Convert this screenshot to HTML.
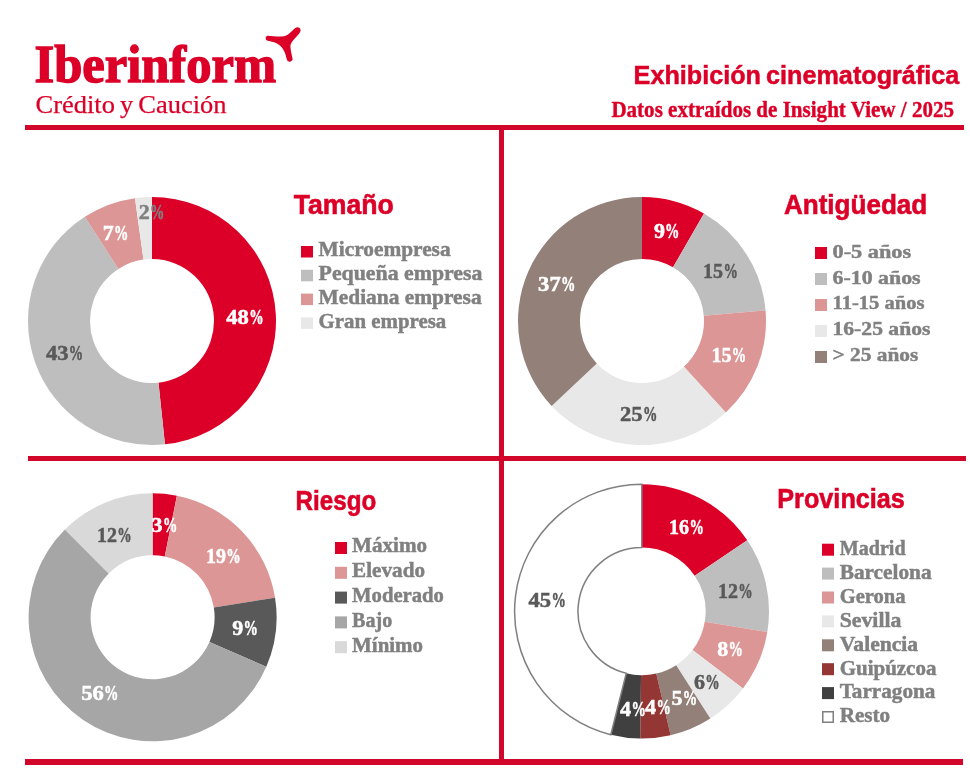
<!DOCTYPE html>
<html><head><meta charset="utf-8"><title>Exhibición cinematográfica</title>
<style>
html,body{margin:0;padding:0;background:#fff}
svg{display:block;will-change:transform}
.sb{font-family:"Liberation Serif",serif;font-weight:bold}
.sr{font-family:"Liberation Serif",serif;font-weight:normal}
.nb{font-family:"Liberation Sans",sans-serif;font-weight:bold}
</style></head><body>
<svg width="970" height="773" viewBox="0 0 970 773">
<rect width="970" height="773" fill="#fff"/>
<rect x="25" y="125" width="939" height="5" fill="#D2052A"/>
<rect x="28" y="456" width="938" height="5" fill="#D2052A"/>
<rect x="25" y="759" width="938" height="6" fill="#D2052A"/>
<rect x="499" y="127" width="5" height="637" fill="#D2052A"/>
<text x="34.5" y="81.5" font-size="53" fill="#DC0028" stroke="#DC0028" stroke-width="1.4" class="sb" textLength="241.5" lengthAdjust="spacingAndGlyphs">Iberinform</text>
<text x="35.5" y="113.4" font-size="26" fill="#DC0028" stroke="#DC0028" stroke-width="0.25" class="sr" textLength="191.1" lengthAdjust="spacingAndGlyphs" word-spacing="-1.5">Crédito y Caución</text>
<path d="M268,35.8 C273,36.3 279,37 284,36.3 C288.5,35.5 292,30.5 295.3,28 C297.5,26.3 300.5,27.5 300.6,30.3 C300.7,33 295.5,37.5 292.5,41.3 C290.6,44 290.3,45.5 290.5,47.5 C290.8,51.5 292,55.5 292.6,58.8 C293,61.5 288.3,63 287.2,60.3 C286.3,58 285.8,55 284.7,52.3 C283.6,49.6 282,47.2 279.6,45.2 C277.6,43.6 275.6,42.8 273.1,42 C271,41.4 269.5,41.1 267.6,40.7 C264.8,40.1 265.2,35.6 268,35.8 Z" fill="#DC0028"/>
<text x="633.6" y="84.3" font-size="25.8" fill="#DC0028" stroke="#DC0028" stroke-width="0.5" class="nb" textLength="325.7" lengthAdjust="spacingAndGlyphs" word-spacing="-2">Exhibición cinematográfica</text>
<text x="611.4" y="117.1" font-size="22.5" fill="#DC0028" stroke="#DC0028" stroke-width="0.4" class="sb" textLength="342.6" lengthAdjust="spacingAndGlyphs">Datos extraídos de Insight View / 2025</text>
<path d="M152.00,197.00A124,124 0 0 1 164.96,444.32L158.48,382.66A62,62 0 0 0 152.00,259.00Z" fill="#DC0028"/>
<path d="M164.96,444.32A124,124 0 0 1 84.83,216.77L118.41,268.88A62,62 0 0 0 158.48,382.66Z" fill="#BEBEBE"/>
<path d="M84.83,216.77A124,124 0 0 1 134.96,198.18L143.48,259.59A62,62 0 0 0 118.41,268.88Z" fill="#DC9696"/>
<path d="M134.96,198.18A124,124 0 0 1 152.00,197.00L152.00,259.00A62,62 0 0 0 143.48,259.59Z" fill="#E8E8E8"/>
<text x="226.2" y="323.6" font-size="20.8" fill="#fff" stroke="#fff" stroke-width="0.5" class="sb" textLength="22.6" lengthAdjust="spacingAndGlyphs">48</text>
<text x="249.2" y="323.6" font-size="20.8" fill="#fff" stroke="#fff" stroke-width="0.5" class="sb" textLength="14.4" lengthAdjust="spacingAndGlyphs">%</text>
<text x="45.9" y="359.6" font-size="20.8" fill="#595959" stroke="#595959" stroke-width="0.5" class="sb" textLength="22.6" lengthAdjust="spacingAndGlyphs">43</text>
<text x="68.8" y="359.6" font-size="20.8" fill="#595959" stroke="#595959" stroke-width="0.5" class="sb" textLength="14.4" lengthAdjust="spacingAndGlyphs">%</text>
<text x="102.7" y="240.2" font-size="20.8" fill="#fff" stroke="#fff" stroke-width="0.5" class="sb" textLength="11.0" lengthAdjust="spacingAndGlyphs">7</text>
<text x="114.0" y="240.2" font-size="20.8" fill="#fff" stroke="#fff" stroke-width="0.5" class="sb" textLength="14.4" lengthAdjust="spacingAndGlyphs">%</text>
<text x="138.7" y="219.2" font-size="20.8" fill="#808080" stroke="#808080" stroke-width="0.5" class="sb" textLength="11.0" lengthAdjust="spacingAndGlyphs">2</text>
<text x="150.0" y="219.2" font-size="20.8" fill="#808080" stroke="#808080" stroke-width="0.5" class="sb" textLength="14.4" lengthAdjust="spacingAndGlyphs">%</text>
<text x="293.7" y="214.0" font-size="28" fill="#DC0028" stroke="#DC0028" stroke-width="0.6" class="nb" textLength="100.2" lengthAdjust="spacingAndGlyphs">Tamaño</text>
<rect x="301" y="246.0" width="12" height="11.5" fill="#DC0028"/>
<text x="318.6" y="256.4" font-size="20" fill="#808080" stroke="#808080" stroke-width="0.45" class="sb" textLength="132.0" lengthAdjust="spacingAndGlyphs">Microempresa</text>
<rect x="301" y="269.8" width="12" height="11.5" fill="#BEBEBE"/>
<text x="318.6" y="280.2" font-size="20" fill="#808080" stroke="#808080" stroke-width="0.45" class="sb" textLength="163.8" lengthAdjust="spacingAndGlyphs">Pequeña empresa</text>
<rect x="301" y="293.6" width="12" height="11.5" fill="#DC9696"/>
<text x="318.6" y="304.1" font-size="20" fill="#808080" stroke="#808080" stroke-width="0.45" class="sb" textLength="163.0" lengthAdjust="spacingAndGlyphs">Mediana empresa</text>
<rect x="301" y="317.4" width="12" height="11.5" fill="#E8E8E8"/>
<text x="318.6" y="327.9" font-size="20" fill="#808080" stroke="#808080" stroke-width="0.45" class="sb" textLength="127.7" lengthAdjust="spacingAndGlyphs">Gran empresa</text>
<path d="M642.00,197.00A124,124 0 0 1 704.00,213.61L673.00,267.31A62,62 0 0 0 642.00,259.00Z" fill="#DC0028"/>
<path d="M704.00,213.61A124,124 0 0 1 765.55,310.41L703.77,315.70A62,62 0 0 0 673.00,267.31Z" fill="#BEBEBE"/>
<path d="M765.55,310.41A124,124 0 0 1 725.77,412.42L683.89,366.71A62,62 0 0 0 703.77,315.70Z" fill="#DC9696"/>
<path d="M725.77,412.42A124,124 0 0 1 551.61,405.88L596.80,363.44A62,62 0 0 0 683.89,366.71Z" fill="#E8E8E8"/>
<path d="M551.61,405.88A124,124 0 0 1 642.00,197.00L642.00,259.00A62,62 0 0 0 596.80,363.44Z" fill="#928079"/>
<text x="653.9" y="237.6" font-size="20.8" fill="#fff" stroke="#fff" stroke-width="0.5" class="sb" textLength="11.0" lengthAdjust="spacingAndGlyphs">9</text>
<text x="665.1" y="237.6" font-size="20.8" fill="#fff" stroke="#fff" stroke-width="0.5" class="sb" textLength="14.4" lengthAdjust="spacingAndGlyphs">%</text>
<text x="703.1" y="277.9" font-size="20.8" fill="#595959" stroke="#595959" stroke-width="0.5" class="sb" textLength="20.0" lengthAdjust="spacingAndGlyphs">15</text>
<text x="723.4" y="277.9" font-size="20.8" fill="#595959" stroke="#595959" stroke-width="0.5" class="sb" textLength="14.4" lengthAdjust="spacingAndGlyphs">%</text>
<text x="711.5" y="361.9" font-size="20.8" fill="#fff" stroke="#fff" stroke-width="0.5" class="sb" textLength="20.0" lengthAdjust="spacingAndGlyphs">15</text>
<text x="731.8" y="361.9" font-size="20.8" fill="#fff" stroke="#fff" stroke-width="0.5" class="sb" textLength="14.4" lengthAdjust="spacingAndGlyphs">%</text>
<text x="620.0" y="420.9" font-size="20.8" fill="#595959" stroke="#595959" stroke-width="0.5" class="sb" textLength="22.6" lengthAdjust="spacingAndGlyphs">25</text>
<text x="642.9" y="420.9" font-size="20.8" fill="#595959" stroke="#595959" stroke-width="0.5" class="sb" textLength="14.4" lengthAdjust="spacingAndGlyphs">%</text>
<text x="538.1" y="290.9" font-size="20.8" fill="#fff" stroke="#fff" stroke-width="0.5" class="sb" textLength="22.6" lengthAdjust="spacingAndGlyphs">37</text>
<text x="561.0" y="290.9" font-size="20.8" fill="#fff" stroke="#fff" stroke-width="0.5" class="sb" textLength="14.4" lengthAdjust="spacingAndGlyphs">%</text>
<text x="783.9" y="214.0" font-size="28" fill="#DC0028" stroke="#DC0028" stroke-width="0.6" class="nb" textLength="143.4" lengthAdjust="spacingAndGlyphs">Antigüedad</text>
<rect x="815" y="247" width="12" height="12" fill="#DC0028"/>
<text x="832.5" y="257.7" font-size="19.3" fill="#808080" stroke="#808080" stroke-width="0.45" class="sb" textLength="78.7" lengthAdjust="spacingAndGlyphs">0-5 años</text>
<rect x="815" y="273" width="12" height="12" fill="#BEBEBE"/>
<text x="832.5" y="283.6" font-size="19.3" fill="#808080" stroke="#808080" stroke-width="0.45" class="sb" textLength="88.1" lengthAdjust="spacingAndGlyphs">6-10 años</text>
<rect x="815" y="299" width="12" height="12" fill="#DC9696"/>
<text x="832.5" y="309.4" font-size="19.3" fill="#808080" stroke="#808080" stroke-width="0.45" class="sb" textLength="91.9" lengthAdjust="spacingAndGlyphs">11-15 años</text>
<rect x="815" y="325" width="12" height="12" fill="#E8E8E8"/>
<text x="832.5" y="335.2" font-size="19.3" fill="#808080" stroke="#808080" stroke-width="0.45" class="sb" textLength="97.9" lengthAdjust="spacingAndGlyphs">16-25 años</text>
<rect x="815" y="351" width="12" height="12" fill="#928079"/>
<text x="832.5" y="361.1" font-size="19.3" fill="#808080" stroke="#808080" stroke-width="0.45" class="sb" textLength="85.8" lengthAdjust="spacingAndGlyphs">&gt; 25 años</text>
<path d="M152.60,493.30A124,124 0 0 1 176.90,495.70L164.75,556.50A62,62 0 0 0 152.60,555.30Z" fill="#DC0028"/>
<path d="M176.90,495.70A124,124 0 0 1 275.04,597.69L213.82,607.49A62,62 0 0 0 164.75,556.50Z" fill="#DC9696"/>
<path d="M275.04,597.69A124,124 0 0 1 266.32,666.74L209.46,642.02A62,62 0 0 0 213.82,607.49Z" fill="#595959"/>
<path d="M266.32,666.74A124,124 0 1 1 64.92,529.62L108.76,573.46A62,62 0 1 0 209.46,642.02Z" fill="#A6A6A6"/>
<path d="M64.92,529.62A124,124 0 0 1 152.60,493.30L152.60,555.30A62,62 0 0 0 108.76,573.46Z" fill="#D9D9D9"/>
<text x="151.6" y="532.3" font-size="20.8" fill="#fff" stroke="#fff" stroke-width="0.5" class="sb" textLength="11.0" lengthAdjust="spacingAndGlyphs">3</text>
<text x="162.9" y="532.3" font-size="20.8" fill="#fff" stroke="#fff" stroke-width="0.5" class="sb" textLength="14.4" lengthAdjust="spacingAndGlyphs">%</text>
<text x="206.0" y="562.7" font-size="20.8" fill="#fff" stroke="#fff" stroke-width="0.5" class="sb" textLength="20.0" lengthAdjust="spacingAndGlyphs">19</text>
<text x="226.3" y="562.7" font-size="20.8" fill="#fff" stroke="#fff" stroke-width="0.5" class="sb" textLength="14.4" lengthAdjust="spacingAndGlyphs">%</text>
<text x="232.2" y="635.2" font-size="20.8" fill="#fff" stroke="#fff" stroke-width="0.5" class="sb" textLength="11.0" lengthAdjust="spacingAndGlyphs">9</text>
<text x="243.6" y="635.2" font-size="20.8" fill="#fff" stroke="#fff" stroke-width="0.5" class="sb" textLength="14.4" lengthAdjust="spacingAndGlyphs">%</text>
<text x="81.2" y="700.0" font-size="20.8" fill="#fff" stroke="#fff" stroke-width="0.5" class="sb" textLength="22.6" lengthAdjust="spacingAndGlyphs">56</text>
<text x="104.0" y="700.0" font-size="20.8" fill="#fff" stroke="#fff" stroke-width="0.5" class="sb" textLength="14.4" lengthAdjust="spacingAndGlyphs">%</text>
<text x="97.0" y="541.7" font-size="20.8" fill="#595959" stroke="#595959" stroke-width="0.5" class="sb" textLength="20.0" lengthAdjust="spacingAndGlyphs">12</text>
<text x="117.3" y="541.7" font-size="20.8" fill="#595959" stroke="#595959" stroke-width="0.5" class="sb" textLength="14.4" lengthAdjust="spacingAndGlyphs">%</text>
<text x="295.6" y="509.8" font-size="28" fill="#DC0028" stroke="#DC0028" stroke-width="0.6" class="nb" textLength="80.7" lengthAdjust="spacingAndGlyphs">Riesgo</text>
<rect x="335" y="542.0" width="12" height="12" fill="#DC0028"/>
<text x="352.1" y="551.9" font-size="20" fill="#808080" stroke="#808080" stroke-width="0.45" class="sb" textLength="74.9" lengthAdjust="spacingAndGlyphs">Máximo</text>
<rect x="335" y="566.8" width="12" height="12" fill="#DC9696"/>
<text x="352.1" y="576.9" font-size="20" fill="#808080" stroke="#808080" stroke-width="0.45" class="sb" textLength="72.9" lengthAdjust="spacingAndGlyphs">Elevado</text>
<rect x="335" y="591.6" width="12" height="12" fill="#595959"/>
<text x="352.1" y="602.0" font-size="20" fill="#808080" stroke="#808080" stroke-width="0.45" class="sb" textLength="91.8" lengthAdjust="spacingAndGlyphs">Moderado</text>
<rect x="335" y="616.4" width="12" height="12" fill="#A6A6A6"/>
<text x="352.1" y="627.0" font-size="20" fill="#808080" stroke="#808080" stroke-width="0.45" class="sb" textLength="40.1" lengthAdjust="spacingAndGlyphs">Bajo</text>
<rect x="335" y="641.2" width="12" height="12" fill="#D9D9D9"/>
<text x="352.1" y="652.0" font-size="20" fill="#808080" stroke="#808080" stroke-width="0.45" class="sb" textLength="70.9" lengthAdjust="spacingAndGlyphs">Mínimo</text>
<path d="M641.80,484.20A127.2,127.2 0 0 1 747.25,540.27L694.69,575.72A63.8,63.8 0 0 0 641.80,547.60Z" fill="#DC0028"/>
<path d="M747.25,540.27A127.2,127.2 0 0 1 767.33,631.96L704.76,621.71A63.8,63.8 0 0 0 694.69,575.72Z" fill="#BEBEBE"/>
<path d="M767.33,631.96A127.2,127.2 0 0 1 742.98,688.48L692.55,650.06A63.8,63.8 0 0 0 704.76,621.71Z" fill="#DC9696"/>
<path d="M742.98,688.48A127.2,127.2 0 0 1 710.33,718.56L676.17,665.15A63.8,63.8 0 0 0 692.55,650.06Z" fill="#E8E8E8"/>
<path d="M710.33,718.56A127.2,127.2 0 0 1 670.63,735.29L656.26,673.54A63.8,63.8 0 0 0 676.17,665.15Z" fill="#928079"/>
<path d="M670.63,735.29A127.2,127.2 0 0 1 640.25,738.59L641.02,675.20A63.8,63.8 0 0 0 656.26,673.54Z" fill="#943634"/>
<path d="M640.25,738.59A127.2,127.2 0 0 1 610.81,734.77L626.26,673.28A63.8,63.8 0 0 0 641.02,675.20Z" fill="#404040"/>
<path d="M610.81,734.77A127.2,127.2 0 0 1 641.80,484.20L641.80,547.60A63.8,63.8 0 0 0 626.26,673.28Z" fill="#FFFFFF" stroke="#808080" stroke-width="1.5"/>
<text x="669.1" y="533.8" font-size="20.8" fill="#fff" stroke="#fff" stroke-width="0.5" class="sb" textLength="20.0" lengthAdjust="spacingAndGlyphs">16</text>
<text x="689.4" y="533.8" font-size="20.8" fill="#fff" stroke="#fff" stroke-width="0.5" class="sb" textLength="14.4" lengthAdjust="spacingAndGlyphs">%</text>
<text x="718.0" y="597.9" font-size="20.8" fill="#595959" stroke="#595959" stroke-width="0.5" class="sb" textLength="20.0" lengthAdjust="spacingAndGlyphs">12</text>
<text x="738.3" y="597.9" font-size="20.8" fill="#595959" stroke="#595959" stroke-width="0.5" class="sb" textLength="14.4" lengthAdjust="spacingAndGlyphs">%</text>
<text x="717.2" y="655.9" font-size="20.8" fill="#fff" stroke="#fff" stroke-width="0.5" class="sb" textLength="11.0" lengthAdjust="spacingAndGlyphs">8</text>
<text x="728.5" y="655.9" font-size="20.8" fill="#fff" stroke="#fff" stroke-width="0.5" class="sb" textLength="14.4" lengthAdjust="spacingAndGlyphs">%</text>
<text x="694.0" y="688.8" font-size="20.8" fill="#595959" stroke="#595959" stroke-width="0.5" class="sb" textLength="11.0" lengthAdjust="spacingAndGlyphs">6</text>
<text x="705.3" y="688.8" font-size="20.8" fill="#595959" stroke="#595959" stroke-width="0.5" class="sb" textLength="14.4" lengthAdjust="spacingAndGlyphs">%</text>
<text x="671.5" y="705.1" font-size="20.8" fill="#fff" stroke="#fff" stroke-width="0.5" class="sb" textLength="11.0" lengthAdjust="spacingAndGlyphs">5</text>
<text x="682.8" y="705.1" font-size="20.8" fill="#fff" stroke="#fff" stroke-width="0.5" class="sb" textLength="14.4" lengthAdjust="spacingAndGlyphs">%</text>
<text x="645.1" y="713.5" font-size="20.8" fill="#fff" stroke="#fff" stroke-width="0.5" class="sb" textLength="11.0" lengthAdjust="spacingAndGlyphs">4</text>
<text x="656.4" y="713.5" font-size="20.8" fill="#fff" stroke="#fff" stroke-width="0.5" class="sb" textLength="14.4" lengthAdjust="spacingAndGlyphs">%</text>
<text x="620.1" y="716.4" font-size="20.8" fill="#fff" stroke="#fff" stroke-width="0.5" class="sb" textLength="11.0" lengthAdjust="spacingAndGlyphs">4</text>
<text x="631.4" y="716.4" font-size="20.8" fill="#fff" stroke="#fff" stroke-width="0.5" class="sb" textLength="14.4" lengthAdjust="spacingAndGlyphs">%</text>
<text x="528.5" y="607.0" font-size="20.8" fill="#595959" stroke="#595959" stroke-width="0.5" class="sb" textLength="22.6" lengthAdjust="spacingAndGlyphs">45</text>
<text x="551.4" y="607.0" font-size="20.8" fill="#595959" stroke="#595959" stroke-width="0.5" class="sb" textLength="14.4" lengthAdjust="spacingAndGlyphs">%</text>
<text x="777.3" y="507.7" font-size="28" fill="#DC0028" stroke="#DC0028" stroke-width="0.6" class="nb" textLength="127.6" lengthAdjust="spacingAndGlyphs">Provincias</text>
<rect x="822" y="543.7" width="12" height="12" fill="#DC0028"/>
<text x="839.7" y="554.7" font-size="20" fill="#808080" stroke="#808080" stroke-width="0.45" class="sb" textLength="65.9" lengthAdjust="spacingAndGlyphs">Madrid</text>
<rect x="822" y="567.6" width="12" height="12" fill="#BEBEBE"/>
<text x="839.7" y="578.7" font-size="20" fill="#808080" stroke="#808080" stroke-width="0.45" class="sb" textLength="91.9" lengthAdjust="spacingAndGlyphs">Barcelona</text>
<rect x="822" y="591.5" width="12" height="12" fill="#DC9696"/>
<text x="839.7" y="602.6" font-size="20" fill="#808080" stroke="#808080" stroke-width="0.45" class="sb" textLength="65.9" lengthAdjust="spacingAndGlyphs">Gerona</text>
<rect x="822" y="615.4000000000001" width="12" height="12" fill="#E8E8E8"/>
<text x="839.7" y="626.6" font-size="20" fill="#808080" stroke="#808080" stroke-width="0.45" class="sb" textLength="61.7" lengthAdjust="spacingAndGlyphs">Sevilla</text>
<rect x="822" y="639.3000000000001" width="12" height="12" fill="#928079"/>
<text x="839.7" y="650.5" font-size="20" fill="#808080" stroke="#808080" stroke-width="0.45" class="sb" textLength="78.5" lengthAdjust="spacingAndGlyphs">Valencia</text>
<rect x="822" y="663.2" width="12" height="12" fill="#943634"/>
<text x="839.7" y="674.5" font-size="20" fill="#808080" stroke="#808080" stroke-width="0.45" class="sb" textLength="96.7" lengthAdjust="spacingAndGlyphs">Guipúzcoa</text>
<rect x="822" y="687.1" width="12" height="12" fill="#404040"/>
<text x="839.7" y="698.4" font-size="20" fill="#808080" stroke="#808080" stroke-width="0.45" class="sb" textLength="95.7" lengthAdjust="spacingAndGlyphs">Tarragona</text>
<rect x="822.75" y="711.75" width="10.5" height="10.5" fill="#fff" stroke="#7F7F7F" stroke-width="1.5"/>
<text x="839.7" y="722.4" font-size="20" fill="#808080" stroke="#808080" stroke-width="0.45" class="sb" textLength="50.4" lengthAdjust="spacingAndGlyphs">Resto</text>
</svg>
</body></html>
